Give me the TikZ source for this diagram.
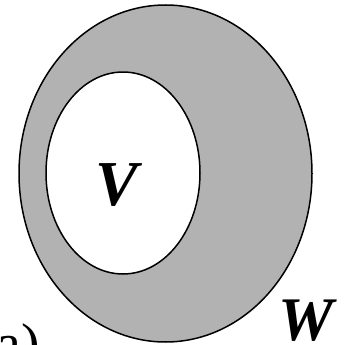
\documentclass[tikz,border=0pt]{standalone}
\usepackage{fontspec}
\setmainfont{Liberation Serif}
\begin{document}
\begin{tikzpicture}[x=1pt, y=-1pt, line width=1.5pt, line join=round, line cap=round]
			\useasboundingbox (0,0) rectangle (348,345);
			
			\coordinate (OW) at (165.5,173.5);
			\coordinate (OV) at (123,173);
			
			\filldraw[fill=black!30] (OW) ellipse (146.5 and 168.5);
			\filldraw[fill=white] (OV) ellipse (77 and 101);
			
			\node[font=\fontsize{64}{64}\selectfont\bfseries\itshape, anchor=base, inner sep=0pt] (V) at (117,205) {V};
			\node[font=\fontsize{62}{62}\selectfont\bfseries\itshape, anchor=base, inner sep=0pt] (W) at (306,340) {W};
			\node[font=\fontsize{56}{56}\selectfont, anchor=base west, inner sep=0pt] (lbl) at (-4,362) {a)};
		\end{tikzpicture}
\end{document}
